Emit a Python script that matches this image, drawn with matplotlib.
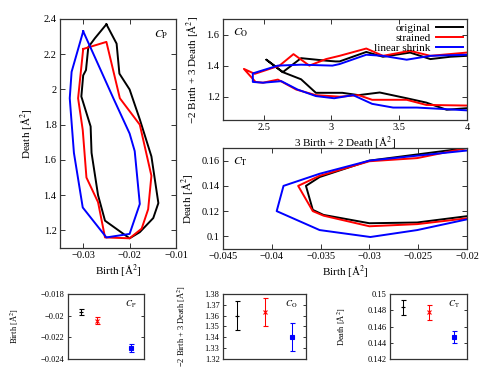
import numpy as np
import matplotlib
matplotlib.use("Agg")
import matplotlib.pyplot as plt
from matplotlib.ticker import FuncFormatter

plt.rcParams['font.family'] = ['Liberation Serif', 'DejaVu Serif']
plt.rcParams['mathtext.fontset'] = 'stix'

# ---------------- data ----------------
# C_P loops (Birth, Death)
cp_black_x = [-0.025, -0.0228, -0.0222, -0.0200, -0.0178, -0.0153, -0.0138, -0.0149, -0.0178, -0.0200,
              -0.0253, -0.0268, -0.0282, -0.0284, -0.0304, -0.0300, -0.0294, -0.0289, -0.0275, -0.025]
cp_black_y = [2.37, 2.26, 2.09, 2.00, 1.83, 1.62, 1.355, 1.27, 1.19, 1.155,
              1.255, 1.40, 1.64, 1.79, 1.96, 2.08, 2.11, 2.24, 2.29, 2.37]
cp_red_x = [-0.0300, -0.0250, -0.0221, -0.0178, -0.0153, -0.0160, -0.0174, -0.0200, -0.0253,
            -0.0268, -0.0293, -0.0301, -0.0311, -0.0300]
cp_red_y = [2.23, 2.27, 1.95, 1.80, 1.51, 1.32, 1.21, 1.155, 1.16,
            1.36, 1.50, 1.77, 1.95, 2.23]
cp_blue_x = [-0.0300, -0.0264, -0.0235, -0.0200, -0.0189, -0.0178, -0.0200, -0.0250, -0.0271,
             -0.0301, -0.0320, -0.0329, -0.0325, -0.0300]
cp_blue_y = [2.33, 2.12, 1.95, 1.75, 1.65, 1.35, 1.18, 1.16, 1.23,
             1.33, 1.64, 1.95, 2.10, 2.33]

# C_O curves (3 Birth + 2 Death, -2 Birth + 3 Death)
co_black_x = [4.00, 3.877, 3.73, 3.58, 3.38, 3.257, 3.06, 3.03, 2.959, 2.776, 2.641, 2.52, 2.641,
              2.776, 2.885, 3.08, 3.20, 3.356, 3.555, 3.70, 3.85, 4.00]
co_black_y = [1.463, 1.457, 1.442, 1.484, 1.457, 1.488, 1.427, 1.427, 1.432, 1.448, 1.358, 1.438, 1.358,
              1.312, 1.225, 1.225, 1.21, 1.227, 1.19, 1.162, 1.116, 1.126]
co_red_x = [4.00, 3.73, 3.58, 3.38, 3.257, 3.06, 2.96, 2.837, 2.72, 2.617, 2.434, 2.354, 2.44,
            2.495, 2.605, 2.74, 2.885, 3.06, 3.20, 3.30, 3.43, 3.555, 3.70, 4.00]
co_red_y = [1.484, 1.463, 1.495, 1.463, 1.510, 1.463, 1.442, 1.400, 1.474, 1.400, 1.347, 1.379, 1.295,
            1.290, 1.310, 1.246, 1.210, 1.200, 1.210, 1.180, 1.180, 1.180, 1.147, 1.143]
co_blue_x = [4.00, 3.73, 3.555, 3.38, 3.257, 3.06, 3.007, 2.776, 2.605, 2.42, 2.42,
             2.495, 2.63, 2.75, 2.885, 3.02, 3.16, 3.30, 3.455, 3.63, 3.80, 4.00]
co_blue_y = [1.470, 1.463, 1.438, 1.463, 1.470, 1.410, 1.400, 1.406, 1.400, 1.350, 1.295,
             1.290, 1.300, 1.246, 1.204, 1.190, 1.210, 1.154, 1.130, 1.130, 1.122, 1.112]

# C_T curves (Birth, Death)
ct_black_x = [-0.0200, -0.0300, -0.0351, -0.0365, -0.0358, -0.0347, -0.0300, -0.0251, -0.0200]
ct_black_y = [0.170, 0.160, 0.147, 0.140, 0.121, 0.117, 0.1104, 0.111, 0.116]
ct_red_x = [-0.0200, -0.0251, -0.0300, -0.0351, -0.0373, -0.0358, -0.0347, -0.0300, -0.0251, -0.0200]
ct_red_y = [0.170, 0.162, 0.1595, 0.148, 0.140, 0.120, 0.1164, 0.108, 0.1097, 0.1143]
ct_blue_x = [-0.0200, -0.0300, -0.0351, -0.0388, -0.0395, -0.0351, -0.0299, -0.0251, -0.0200]
ct_blue_y = [0.168, 0.160, 0.1496, 0.140, 0.120, 0.105, 0.0995, 0.105, 0.1135]

# summary points (mean +/- error) for original, strained, linear shrink
sum_cp_x = [1.0, 1.65, 3.0]
sum_cp_y = [-0.01963, -0.02046, -0.02298]
sum_cp_e = [0.00028, 0.00030, 0.00038]
sum_co_x = [1.0, 2.0, 3.0]
sum_co_y = [1.3600, 1.3631, 1.3403]
sum_co_e = [0.0135, 0.0130, 0.0128]
sum_ct_x = [1.0, 2.0, 3.0]
sum_ct_y = [0.14836, 0.14774, 0.14471]
sum_ct_e = [0.00096, 0.00092, 0.00078]

labels = ["original", "strained", "linear shrink"]
colors = ["black", "#ff0000", "#0000ff"]
markers = ["+", "x", "s"]

# ---------------- figure ----------------
fig = plt.figure(figsize=(4.91, 3.82), dpi=100)
W, H = 491.0, 382.0


def add_ax(l, t, r, b):
    return fig.add_axes([l / W, 1 - b / H, (r - l) / W, (b - t) / H])


spine_col = "#333333"
TFS = 7.5
LFS = 8


def style(ax, fs=TFS, length=3.5):
    for s in ax.spines.values():
        s.set_color(spine_col)
        s.set_linewidth(0.9)
    ax.tick_params(direction="in", top=True, right=True, length=length, width=0.7,
                   labelsize=fs, color=spine_col, pad=2.5)


gfmt = FuncFormatter(lambda v, p: ("%g" % v).replace("-", "\u2212"))
lw = 1.4

# C_P
ax1 = add_ax(60, 19, 176, 248)
for xs, ys, c in zip([cp_black_x, cp_red_x, cp_blue_x], [cp_black_y, cp_red_y, cp_blue_y], colors):
    ax1.plot(xs, ys, color=c, lw=lw)
ax1.set_xlim(-0.035, -0.01)
ax1.set_ylim(1.1, 2.4)
ax1.set_xticks([-0.03, -0.02, -0.01])
ax1.set_yticks([1.2, 1.4, 1.6, 1.8, 2.0, 2.2, 2.4])
ax1.xaxis.set_major_formatter(gfmt)
ax1.yaxis.set_major_formatter(gfmt)
style(ax1)
ax1.set_xlabel("Birth [Å$^2$]", fontsize=LFS, labelpad=1)
ax1.set_ylabel("Death [Å$^2$]", fontsize=LFS, labelpad=6)
ax1.text(0.93, 0.96, r"$C_\mathrm{P}$", transform=ax1.transAxes, ha="right", va="top", fontsize=8.5)

# C_O
ax2 = add_ax(223, 19, 467, 120)
for xs, ys, c, lab in zip([co_black_x, co_red_x, co_blue_x], [co_black_y, co_red_y, co_blue_y], colors, labels):
    ax2.plot(xs, ys, color=c, lw=lw, label=lab)
ax2.set_xlim(2.2, 4.0)
ax2.set_ylim(1.05, 1.7)
ax2.set_xticks([2.5, 3.0, 3.5, 4.0])
ax2.set_yticks([1.2, 1.4, 1.6])
ax2.xaxis.set_major_formatter(gfmt)
ax2.yaxis.set_major_formatter(gfmt)
style(ax2)
ax2.set_xlabel("3 Birth + 2 Death [Å$^2$]", fontsize=LFS, labelpad=1)
ax2.set_ylabel("\u22122 Birth + 3 Death [Å$^2$]", fontsize=LFS, labelpad=4)
ax2.text(0.04, 0.93, r"$C_\mathrm{O}$", transform=ax2.transAxes, ha="left", va="top", fontsize=8.5)
ax2.legend(loc="upper right", frameon=False, markerfirst=False, fontsize=8,
           handlelength=2.4, handletextpad=0.5, labelspacing=0.0, borderpad=0.2,
           borderaxespad=0.2)

# C_T
ax3 = add_ax(223, 148, 467, 249)
for xs, ys, c in zip([ct_black_x, ct_red_x, ct_blue_x], [ct_black_y, ct_red_y, ct_blue_y], colors):
    ax3.plot(xs, ys, color=c, lw=lw)
ax3.set_xlim(-0.045, -0.02)
ax3.set_ylim(0.09, 0.17)
ax3.set_xticks([-0.045, -0.04, -0.035, -0.03, -0.025, -0.02])
ax3.set_yticks([0.1, 0.12, 0.14, 0.16])
ax3.xaxis.set_major_formatter(gfmt)
ax3.yaxis.set_major_formatter(gfmt)
style(ax3)
ax3.set_xlabel("Birth [Å$^2$]", fontsize=LFS, labelpad=1)
ax3.set_ylabel("Death [Å$^2$]", fontsize=LFS, labelpad=4)
ax3.text(0.04, 0.93, r"$C_\mathrm{T}$", transform=ax3.transAxes, ha="left", va="top", fontsize=8.5)

# summary panels
SFS = 6


def summary(ax, xs, ys, es, ylim, yticks, ylabel, title, lpad):
    for x, y, e, c, m in zip(xs, ys, es, colors, markers):
        ms = 2.2 if m == "s" else 3.2
        ax.errorbar([x], [y], yerr=[e], color=c, marker=m, ms=ms, mew=0.8, capsize=1.8,
                    elinewidth=0.75, capthick=0.75, ls="none")
    ax.set_xlim(0.5, 3.5)
    ax.set_ylim(*ylim)
    ax.set_yticks(yticks)
    ax.yaxis.set_major_formatter(gfmt)
    ax.set_xticks([])
    style(ax, fs=SFS, length=2.5)
    ax.tick_params(axis="x", top=False, bottom=False)
    ax.set_ylabel(ylabel, fontsize=SFS, labelpad=lpad)
    ax.text(0.9, 0.93, title, transform=ax.transAxes, ha="right", va="top", fontsize=6.5)


ax4 = add_ax(68, 294, 144, 359)
summary(ax4, sum_cp_x, sum_cp_y, sum_cp_e, (-0.024, -0.018), [-0.024, -0.022, -0.02, -0.018],
        "Birth [Å$^2$]", r"$C_\mathrm{P}$", 14)
ax5 = add_ax(223, 294, 306, 359)
summary(ax5, sum_co_x, sum_co_y, sum_co_e, (1.32, 1.38), [1.32, 1.33, 1.34, 1.35, 1.36, 1.37, 1.38],
        "\u22122 Birth + 3 Death [Å$^2$]", r"$C_\mathrm{O}$", 12)
ax6 = add_ax(390, 294, 467, 359)
summary(ax6, sum_ct_x, sum_ct_y, sum_ct_e, (0.142, 0.15), [0.142, 0.144, 0.146, 0.148, 0.15],
        "Death [Å$^2$]", r"$C_\mathrm{T}$", 14)

fig.savefig("out.png", dpi=100)
